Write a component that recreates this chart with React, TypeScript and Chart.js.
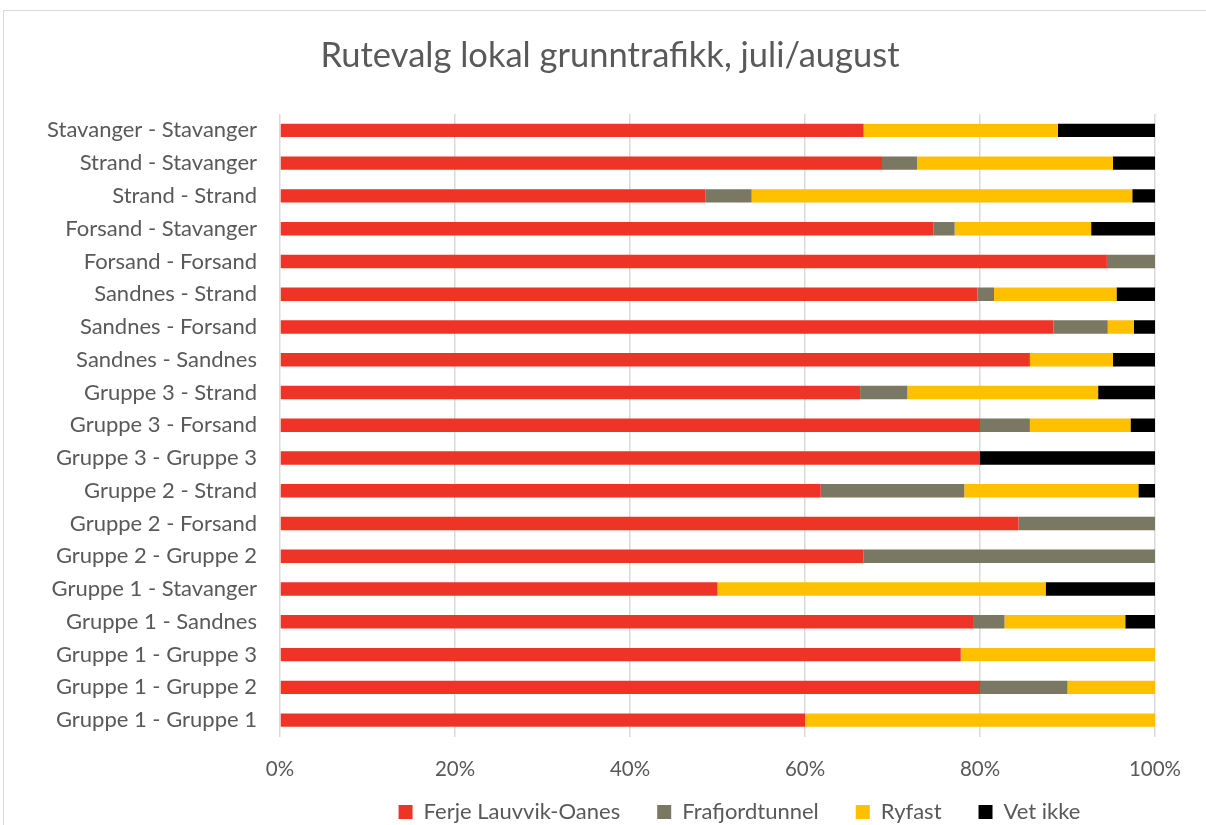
import React, { useEffect, useRef } from "react";
import { Chart, registerables } from "chart.js";

Chart.register(...registerables);

const categories = [
  "Stavanger - Stavanger",
  "Strand - Stavanger",
  "Strand - Strand",
  "Forsand - Stavanger",
  "Forsand - Forsand",
  "Sandnes - Strand",
  "Sandnes - Forsand",
  "Sandnes - Sandnes",
  "Gruppe 3 - Strand",
  "Gruppe 3 - Forsand",
  "Gruppe 3 - Gruppe 3",
  "Gruppe 2 - Strand",
  "Gruppe 2 - Forsand",
  "Gruppe 2 - Gruppe 2",
  "Gruppe 1 - Stavanger",
  "Gruppe 1 - Sandnes",
  "Gruppe 1 - Gruppe 3",
  "Gruppe 1 - Gruppe 2",
  "Gruppe 1 - Gruppe 1",
];

const ferje = [66.7, 68.8, 48.6, 74.7, 94.5, 79.7, 88.4, 85.7, 66.3, 80.0, 80.0, 61.8, 84.4, 66.7, 50.0, 79.3, 77.8, 80.0, 60.0];
const frafjord = [0, 4.0, 5.3, 2.4, 5.5, 1.9, 6.2, 0, 5.4, 5.7, 0, 16.4, 15.6, 33.3, 0, 3.5, 0, 10.0, 0];
const ryfast = [22.2, 22.4, 43.5, 15.6, 0, 14.0, 3.0, 9.5, 21.8, 11.5, 0, 19.9, 0, 0, 37.5, 13.8, 22.2, 10.0, 40.0];
const vetIkke = [11.1, 4.8, 2.6, 7.3, 0, 4.4, 2.4, 4.8, 6.5, 2.8, 20.0, 1.9, 0, 0, 12.5, 3.4, 0, 0, 0];

const seriesNames = ["Ferje Lauvvik-Oanes", "Frafjordtunnel", "Ryfast", "Vet ikke"];
const seriesColors = ["#EE3427", "#7A7762", "#FFC000", "#000000"];
const xTicks = [0, 20, 40, 60, 80, 100];
const titleText = "Rutevalg lokal grunntrafikk, juli/august";

const FONT = "Lato, 'Open Sans', sans-serif";
const TEXT = "#595959";
const PAD_BOTTOM = -34;
const PLOT_BOTTOM = 736.5;
const LEGEND_TOP = 764;
const LEGEND_SHIFT_X = 162;

const titlePlugin = {
  id: "customTitle",
  afterDraw(chart: any) {
    const ctx = chart.ctx;
    ctx.save();
    ctx.fillStyle = TEXT;
    ctx.font = `normal 34.5px ${FONT}`;
    ctx.textAlign = "center";
    ctx.textBaseline = "middle";
    ctx.fillText(titleText, 610, 56);
    ctx.restore();
  },
};

const legendPlace = {
  id: "legendPlace",
  afterLayout(chart: any) {
    const lg = chart.legend;
    if (!lg) return;
    const h = lg.height;
    lg.top = LEGEND_TOP;
    lg.bottom = LEGEND_TOP + h;
    lg.left += LEGEND_SHIFT_X;
    lg.right += LEGEND_SHIFT_X;
  },
};

export default function App() {
  const ref = useRef<HTMLCanvasElement | null>(null);

  useEffect(() => {
    if (!ref.current) return;
    const values = [ferje, frafjord, ryfast, vetIkke];
    const chart = new Chart(ref.current, {
      type: "bar",
      data: {
        labels: categories,
        datasets: seriesNames.map((name, i) => ({
          label: name,
          data: values[i],
          backgroundColor: seriesColors[i],
          borderWidth: 0,
          categoryPercentage: 1,
          barPercentage: 0.41,
        })),
      },
      plugins: [titlePlugin, legendPlace],
      options: {
        indexAxis: "y",
        animation: false,
        responsive: false,
        maintainAspectRatio: false,
        layout: { padding: { left: 0, right: 51, top: 114, bottom: PAD_BOTTOM } },
        scales: {
          x: {
            stacked: true,
            min: 0,
            max: 100,
            afterBuildTicks: (axis: any) => {
              axis.ticks = xTicks.map((v) => ({ value: v }));
            },
            afterFit: (s: any) => {
              const lg = s.chart.legend;
              const lh = lg && lg.height ? lg.height : 74;
              const legendTop = 825 - PAD_BOTTOM - lh;
              s.height = Math.max(legendTop - PLOT_BOTTOM, 0);
            },
            ticks: {
              color: TEXT,
              font: { family: FONT, size: 20.5 },
              padding: 21,
              callback: (v: any) => v + "%",
            },
            grid: { color: "#D9D9D9", lineWidth: 1.5, drawTicks: false },
            border: { display: false },
          },
          y: {
            stacked: true,
            afterFit: (s: any) => {
              s.width = 280;
            },
            ticks: {
              color: TEXT,
              font: { family: FONT, size: 22 },
              padding: 15,
              autoSkip: false,
            },
            grid: { display: false },
            border: { display: false },
          },
        },
        plugins: {
          title: { display: false },
          legend: {
            position: "bottom",
            labels: {
              color: TEXT,
              font: { family: FONT, size: 22 },
              boxWidth: 14,
              boxHeight: 14,
              padding: 37,
            },
          },
          tooltip: { enabled: false },
        },
      },
    });
    return () => chart.destroy();
  }, []);

  return (
    <div style={{ position: "absolute", left: 0, top: 0, width: 1206, height: 825, background: "#fff", overflow: "hidden" }}>
      <div
        style={{
          position: "absolute",
          left: 3,
          top: 10,
          width: 1210,
          height: 830,
          border: "1px solid #D9D9D9",
          boxSizing: "border-box",
        }}
      />
      <canvas ref={ref} width={1206} height={825} style={{ position: "absolute", left: 0, top: 0 }} />
    </div>
  );
}
